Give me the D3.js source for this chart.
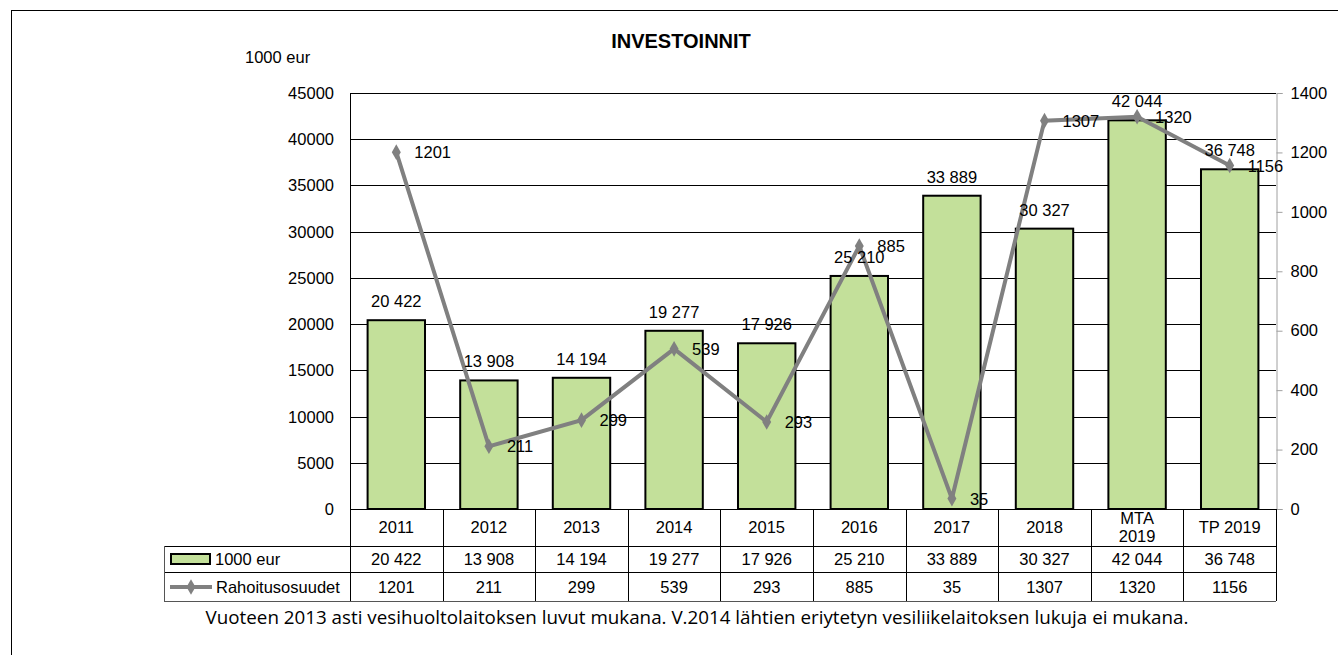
<!DOCTYPE html>
<html>
<head>
<meta charset="utf-8">
<script src="https://cdn.jsdelivr.net/npm/d3@7"></script>
<style>
  body { margin: 0; background: #fff; }
  svg text { font-family: "Liberation Sans", Arial, sans-serif; fill: #000; font-size: 16.5px; }
</style>
</head>
<body>
<svg id="chart" width="1338" height="655"></svg>
<script>
// data
const categories = ['2011', '2012', '2013', '2014', '2015', '2016', '2017', '2018', 'MTA 2019', 'TP 2019']
const investments = [20422, 13908, 14194, 19277, 17926, 25210, 33889, 30327, 42044, 36748]
const funding = [1201, 211, 299, 539, 293, 885, 35, 1307, 1320, 1156]
const leftTicks = [0, 5000, 10000, 15000, 20000, 25000, 30000, 35000, 40000, 45000]
const rightTicks = [0, 200, 400, 600, 800, 1000, 1200, 1400]
const barName = '1000 eur'
const lineName = 'Rahoitusosuudet'

const svg = d3.select('#chart')
const pLeft = 350, pRight = 1276, pTop = 93, pBottom = 509
const green = '#c3e09a', gray = '#808080'
const spaced = v => d3.format(',')(v).replace(/,/g, ' ')

// outer frame
svg.append('rect')
  .attr('x', 11.5).attr('y', 10.5)
  .attr('width', 1400).attr('height', 700)
  .attr('fill', 'none').attr('stroke', '#000')

svg.append('text')
  .attr('x', 681).attr('y', 48)
  .attr('text-anchor', 'middle')
  .style('font-weight', 'bold').style('font-size', '20px')
  .text('INVESTOINNIT')

svg.append('text')
  .attr('x', 245).attr('y', 63)
  .text('1000 eur')

const x = d3.scaleBand()
  .domain(categories)
  .range([pLeft, pRight])
  .paddingInner(0.38).paddingOuter(0.19)
const xc = d3.scaleBand().domain(categories).range([pLeft, pRight])
const y = d3.scaleLinear().domain([0, 45000]).range([pBottom, pTop])
const y2 = d3.scaleLinear().domain([0, 1400]).range([pBottom, pTop])

//* * gridlines
svg.append('g')
  .selectAll('line')
  .data(leftTicks)
  .enter().append('line')
  .attr('x1', pLeft).attr('x2', pRight)
  .attr('y1', d => Math.round(y(d)) + 0.5)
  .attr('y2', d => Math.round(y(d)) + 0.5)
  .attr('stroke', '#000')

svg.append('line')
  .attr('x1', pLeft + 0.5).attr('x2', pLeft + 0.5)
  .attr('y1', pTop).attr('y2', pBottom)
  .attr('stroke', '#000')

//* * left axis labels
svg.append('g')
  .selectAll('text')
  .data(leftTicks)
  .enter().append('text')
  .attr('x', 334)
  .attr('y', d => y(d) + 6)
  .attr('text-anchor', 'end')
  .text(d => d)

//* * right axis
const rAxis = svg.append('g')
  .attr('transform', `translate(${pRight + 0.5},0)`)
  .call(d3.axisRight(y2).tickValues(rightTicks).tickFormat(d3.format('d')).tickSize(6).tickPadding(8))
rAxis.select('.domain').attr('stroke', '#a0a0a0')
rAxis.selectAll('.tick line').attr('stroke', '#a0a0a0')
rAxis.selectAll('.tick text')
  .style('font-size', '16.5px')
  .style('font-family', '"Liberation Sans", Arial, sans-serif')
  .attr('fill', '#000')

//* * bars
svg.append('g')
  .selectAll('rect')
  .data(investments)
  .enter().append('rect')
  .attr('x', (d, i) => x(categories[i]))
  .attr('y', d => y(d))
  .attr('width', x.bandwidth())
  .attr('height', d => pBottom - y(d))
  .attr('fill', green)
  .attr('stroke', '#000')
  .attr('stroke-width', 2)

//* * line
const cx = i => xc(categories[i]) + xc.bandwidth() / 2
const line = d3.line()
  .x((d, i) => cx(i))
  .y(d => y2(d))
svg.append('path')
  .datum(funding)
  .attr('d', line)
  .attr('fill', 'none')
  .attr('stroke', gray)
  .attr('stroke-width', 4)

const diamond = d3.symbol().type(d3.symbolDiamond).size(70)
svg.append('g')
  .selectAll('path')
  .data(funding)
  .enter().append('path')
  .attr('d', diamond)
  .attr('transform', (d, i) => `translate(${cx(i)},${y2(d)})`)
  .attr('fill', gray)

//* * bar labels
svg.append('g')
  .selectAll('text')
  .data(investments)
  .enter().append('text')
  .attr('x', (d, i) => cx(i))
  .attr('y', d => y(d) - 13)
  .attr('text-anchor', 'middle')
  .text(d => spaced(d))

//* * line labels
svg.append('g')
  .selectAll('text')
  .data(funding)
  .enter().append('text')
  .attr('x', (d, i) => cx(i) + 18)
  .attr('y', d => y2(d) + 6)
  .text(d => d)

//* * data table
const r1 = pBottom, r2 = 546, r3 = 572, r4 = 601, legLeft = 164
const tg = svg.append('g')
const hline = (x1, x2, yy, c) => tg.append('line')
  .attr('x1', x1).attr('x2', x2).attr('y1', yy + 0.5).attr('y2', yy + 0.5).attr('stroke', c)
hline(legLeft, pRight, r2, '#000')
hline(legLeft, pRight, r3, '#000')
hline(legLeft, pRight, r4, '#555')
tg.selectAll('.vl')
  .data(d3.range(categories.length + 1))
  .enter().append('line')
  .attr('class', 'vl')
  .attr('x1', i => Math.round(pLeft + i * xc.step()) + 0.5)
  .attr('x2', i => Math.round(pLeft + i * xc.step()) + 0.5)
  .attr('y1', r1).attr('y2', r4)
  .attr('stroke', '#000')
tg.append('line')
  .attr('x1', legLeft + 0.5).attr('x2', legLeft + 0.5)
  .attr('y1', r2).attr('y2', r4)
  .attr('stroke', '#555')

// category row
categories.forEach((c, i) => {
  const parts = c === 'MTA 2019' ? ['MTA', '2019'] : [c]
  const t = tg.append('text')
    .attr('text-anchor', 'middle')
  if (parts.length === 1) {
    t.append('tspan').attr('x', cx(i)).attr('y', 533).text(parts[0])
  } else {
    t.append('tspan').attr('x', cx(i)).attr('y', 524).text(parts[0])
    t.append('tspan').attr('x', cx(i)).attr('y', 542).text(parts[1])
  }
})

tg.selectAll('.v1')
  .data(investments)
  .enter().append('text')
  .attr('class', 'v1')
  .attr('x', (d, i) => cx(i))
  .attr('y', 565)
  .attr('text-anchor', 'middle')
  .text(d => spaced(d))

tg.selectAll('.v2')
  .data(funding)
  .enter().append('text')
  .attr('class', 'v2')
  .attr('x', (d, i) => cx(i))
  .attr('y', 593)
  .attr('text-anchor', 'middle')
  .text(d => d)

// legend keys
tg.append('rect')
  .attr('x', 171).attr('y', 554)
  .attr('width', 39).attr('height', 10)
  .attr('fill', green).attr('stroke', '#000').attr('stroke-width', 2)
tg.append('text')
  .attr('x', 215).attr('y', 565)
  .text(barName)
tg.append('line')
  .attr('x1', 170).attr('x2', 212)
  .attr('y1', 587).attr('y2', 587)
  .attr('stroke', gray).attr('stroke-width', 4)
tg.append('path')
  .attr('d', diamond)
  .attr('transform', 'translate(191,587)')
  .attr('fill', gray)
tg.append('text')
  .attr('x', 216).attr('y', 593)
  .text(lineName)

svg.append('text')
  .attr('x', 697).attr('y', 624)
  .attr('text-anchor', 'middle')
  .style('font-family', '"Open Sans", "Noto Sans", sans-serif')
  .style('font-size', '18.8px')
  .text('Vuoteen 2013 asti vesihuoltolaitoksen luvut mukana. V.2014 lähtien eriytetyn vesiliikelaitoksen lukuja ei mukana.')
</script>
</body>
</html>
